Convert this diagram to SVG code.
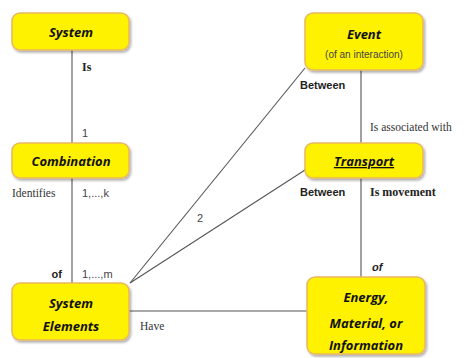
<svg xmlns="http://www.w3.org/2000/svg" width="466" height="358" viewBox="0 0 466 358">
<defs>
<filter id="sh" x="-10%" y="-10%" width="130%" height="140%">
<feDropShadow dx="1.5" dy="2" stdDeviation="1.2" flood-color="#000" flood-opacity="0.3"/>
</filter>
</defs>
<style>
.box{fill:#FFF200;stroke:#E8B860;stroke-width:1.5;filter:url(#sh)}
.nt{font-family:"Open Sans","Liberation Sans",sans-serif;font-weight:bold;font-style:italic;font-size:13px;fill:#111;text-anchor:middle}
.sub{font-family:"Liberation Sans",sans-serif;font-size:10px;fill:#444;text-anchor:middle}
.ln{stroke:#555;stroke-width:1.1;fill:none}
.lb{font-family:"Liberation Serif",serif;font-size:11.5px;fill:#333}
.lbs{font-family:"Liberation Sans",sans-serif;font-size:11px;fill:#444}
.bs{font-family:"Liberation Sans",sans-serif;font-weight:bold;font-size:11px;fill:#222}
.bsf{font-family:"Liberation Serif",serif;font-weight:bold;font-size:12px;fill:#222}
</style>
<g id="connectors">
<line class="ln" x1="72" y1="50" x2="72" y2="143"/>
<line class="ln" x1="72" y1="178" x2="72" y2="283"/>
<line class="ln" x1="361" y1="70" x2="361" y2="143"/>
<line class="ln" x1="361" y1="178" x2="361" y2="277"/>
<line class="ln" x1="130" y1="283" x2="305" y2="68"/>
<line class="ln" x1="130" y1="283" x2="305" y2="170"/>
<line class="ln" x1="129" y1="311" x2="307" y2="311"/>
<text class="bsf" x="82" y="71">Is</text>
<text class="lbs" x="82" y="137">1</text>
<text class="lb" x="12" y="197">Identifies</text>
<text class="lbs" x="82" y="197">1,...,k</text>
<text class="bs" x="62" y="278" text-anchor="end">of</text>
<text class="lbs" x="82" y="278">1,...,m</text>
<text class="lbs" x="197" y="222">2</text>
<text class="bs" x="300" y="89">Between</text>
<text class="lb" x="370" y="131">Is associated  with</text>
<text class="bs" x="300" y="196">Between</text>
<text class="bsf" x="370" y="196">Is movement</text>
<text class="bs" x="372" y="271" font-style="italic">of</text>
<text class="lb" x="140" y="330">Have</text>
</g>
<g id="system">
<rect class="box" x="12" y="13" width="117" height="37" rx="8"/>
<text class="nt" x="71" y="37">System</text>
</g>
<g id="combination">
<rect class="box" x="12" y="143" width="117" height="35" rx="8"/>
<text class="nt" x="71" y="166">Combination</text>
</g>
<g id="system-elements">
<rect class="box" x="12" y="283" width="117" height="57" rx="8"/>
<text class="nt" x="71" y="308">System</text>
<text class="nt" x="71" y="331">Elements</text>
</g>
<g id="event">
<rect class="box" x="305" y="13" width="118" height="57" rx="8"/>
<text class="nt" x="364" y="39">Event</text>
<text class="sub" x="364" y="58">(of an  interaction)</text>
</g>
<g id="transport">
<rect class="box" x="305" y="143" width="118" height="35" rx="8"/>
<text class="nt" x="364" y="166" text-decoration="underline">Transport</text>
</g>
<g id="energy">
<rect class="box" x="307" y="277" width="118" height="77" rx="8"/>
<text class="nt" x="366" y="302">Energy,</text>
<text class="nt" x="366" y="328">Material, or</text>
<text class="nt" x="366" y="350">Information</text>
</g>
</svg>
